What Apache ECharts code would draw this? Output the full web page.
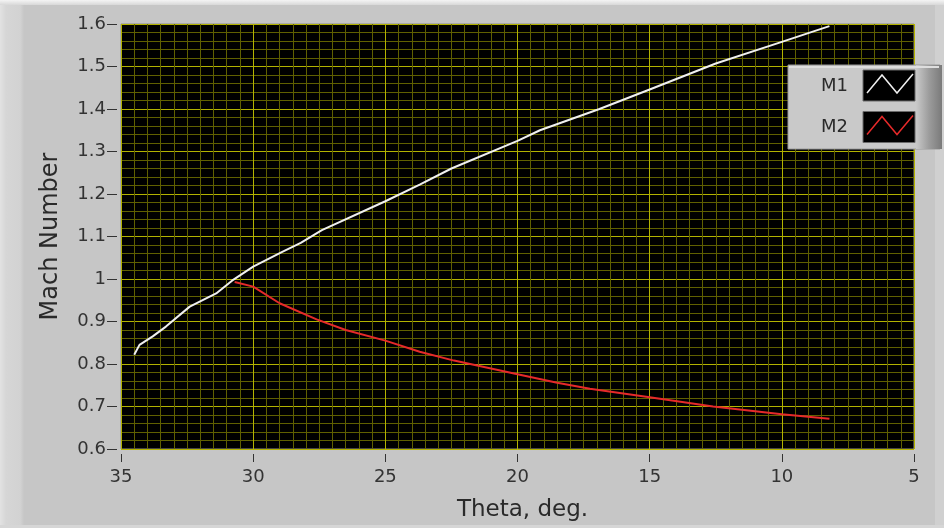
<!DOCTYPE html>
<html>
<head>
<meta charset="utf-8">
<script src="https://cdn.jsdelivr.net/npm/echarts@6/dist/echarts.min.js"></script>
<style>
html,body{margin:0;padding:0;background:#c6c6c6;}
#chart{width:944px;height:528px;}
</style>
</head>
<body>
<div id="chart"></div>
<script>
// ---- data ----
var seriesNames = ['M1', 'M2'];
var seriesColors = ['#f0f0f0', '#e62a2a'];
var thetaM1 = [34.5, 34.3, 33.8, 33.3, 32.4, 31.4, 30.8, 30.0, 28.9, 28.2, 27.4, 25.0, 23.7, 22.5, 20.0, 19.15, 16.9, 15.0, 12.5, 10.0, 8.2];
var machM1  = [0.822, 0.845, 0.865, 0.888, 0.935, 0.966, 0.996, 1.029, 1.064, 1.085, 1.115, 1.183, 1.222, 1.26, 1.325, 1.35, 1.40, 1.446, 1.507, 1.558, 1.595];
var thetaM2 = [30.7, 30.0, 29.0, 27.6, 26.5, 25.0, 23.7, 22.4, 20.0, 18.5, 17.26, 15.0, 12.6, 10.0, 8.2];
var machM2  = [0.993, 0.982, 0.943, 0.905, 0.880, 0.855, 0.829, 0.808, 0.776, 0.756, 0.742, 0.722, 0.700, 0.682, 0.671];
var xMin = 5, xMax = 35, xStep = 5;
var yMin = 0.6, yMax = 1.6, yStep = 0.1;
var xTitle = 'Theta, deg.';
var yTitle = 'Mach Number';

function zip(a, b) { return a.map(function (v, i) { return [v, b[i]]; }); }

var chart = echarts.init(document.getElementById('chart'), null, {renderer: 'canvas'});

var FONT = 'DejaVu Sans';
var major = '#b2b200';
var minor = '#606000';

// legend panel built from series names / colors
var legendGraphics = [
  {type: 'rect', shape: {x: 788, y: 65, width: 152, height: 84}, style: {fill: '#c9c9c9', stroke: '#9a9a9a', lineWidth: 1}, z: 100},
  {type: 'rect', shape: {x: 916, y: 65, width: 26, height: 84},
   style: {fill: new echarts.graphic.LinearGradient(0, 0, 1, 0, [{offset: 0, color: '#c9c9c9'}, {offset: 0.5, color: '#9c9c9c'}, {offset: 1, color: '#7a7a7a'}])}, z: 101},
  {type: 'rect', shape: {x: 789, y: 66, width: 150, height: 2}, style: {fill: '#dedede'}, z: 101}
];
seriesNames.forEach(function (name, i) {
  var top = 70 + i * 41.5;
  legendGraphics.push({type: 'text', x: 848, y: top + 16, style: {text: name, font: '18px "' + FONT + '"', fill: '#2a2a2a', align: 'right', verticalAlign: 'middle'}, z: 102});
  legendGraphics.push({type: 'rect', shape: {x: 863, y: top, width: 52, height: 31}, style: {fill: '#000', stroke: '#6a6a6a', lineWidth: 1}, z: 102});
  legendGraphics.push({type: 'polyline', shape: {points: [[867, top + 23], [882, top + 5], [897, top + 23], [913, top + 4]]}, style: {stroke: seriesColors[i], lineWidth: 1.5, fill: null}, z: 103});
});

var frame = [
  {type: 'rect', shape: {x: 0, y: 0, width: 944, height: 528}, style: {fill: '#c6c6c6'}, z: -10},
  {type: 'rect', shape: {x: 0, y: 0, width: 24, height: 528},
   style: {fill: new echarts.graphic.LinearGradient(0, 0, 1, 0, [{offset: 0, color: '#e2e2e2'}, {offset: 0.25, color: '#d6d6d6'}, {offset: 0.85, color: '#d2d2d2'}, {offset: 1, color: '#c6c6c6'}])}, z: -9},
  {type: 'rect', shape: {x: 0, y: 0, width: 944, height: 5},
   style: {fill: new echarts.graphic.LinearGradient(0, 0, 0, 1, [{offset: 0, color: '#f4f4f4'}, {offset: 1, color: '#d8d8d8'}])}, z: -8},
  {type: 'rect', shape: {x: 935, y: 5, width: 9, height: 523}, style: {fill: '#d0d0d0'}, z: -8},
  {type: 'rect', shape: {x: 0, y: 525, width: 944, height: 3}, style: {fill: '#d6d6d6'}, z: -8}
];

var option = {
  animation: false,
  backgroundColor: 'transparent',
  grid: {left: 121, right: 30, top: 24, bottom: 79, show: true, backgroundColor: '#000', borderColor: '#8c8c8c', borderWidth: 1, containLabel: false},
  xAxis: {
    type: 'value', min: xMin, max: xMax, interval: xStep, inverse: true,
    offset: 5,
    axisLine: {show: false},
    axisTick: {show: true, length: 8, lineStyle: {color: '#333', width: 1}},
    axisLabel: {color: '#333', fontFamily: FONT, fontSize: 18, margin: 14},
    splitLine: {show: true, lineStyle: {color: major, width: 1}},
    minorTick: {show: false, splitNumber: 10},
    minorSplitLine: {show: true, lineStyle: {color: minor, width: 1}},
    name: xTitle, nameLocation: 'middle', nameGap: 45,
    nameTextStyle: {color: '#2a2a2a', fontFamily: FONT, fontSize: 23, padding: [0, 0, 0, 10]}
  },
  yAxis: {
    type: 'value', min: yMin, max: yMax, interval: yStep,
    offset: 4,
    axisLine: {show: false},
    axisTick: {show: true, length: 10, lineStyle: {color: '#333', width: 1}},
    axisLabel: {color: '#333', fontFamily: FONT, fontSize: 18, margin: 11},
    splitLine: {show: true, lineStyle: {color: major, width: 1}},
    minorTick: {show: false, splitNumber: 5},
    minorSplitLine: {show: true, lineStyle: {color: minor, width: 1}},
    name: yTitle, nameLocation: 'middle', nameGap: 54,
    nameTextStyle: {color: '#2a2a2a', fontFamily: FONT, fontSize: 24}
  },
  graphic: frame.concat(legendGraphics),
  series: [
    {name: seriesNames[0], type: 'line', data: zip(thetaM1, machM1), showSymbol: false, smooth: false,
     lineStyle: {color: seriesColors[0], width: 2}, itemStyle: {color: seriesColors[0]}, z: 5},
    {name: seriesNames[1], type: 'line', data: zip(thetaM2, machM2), showSymbol: false, smooth: false,
     lineStyle: {color: seriesColors[1], width: 2}, itemStyle: {color: seriesColors[1]}, z: 5}
  ]
};
chart.setOption(option);
</script>
</body>
</html>
